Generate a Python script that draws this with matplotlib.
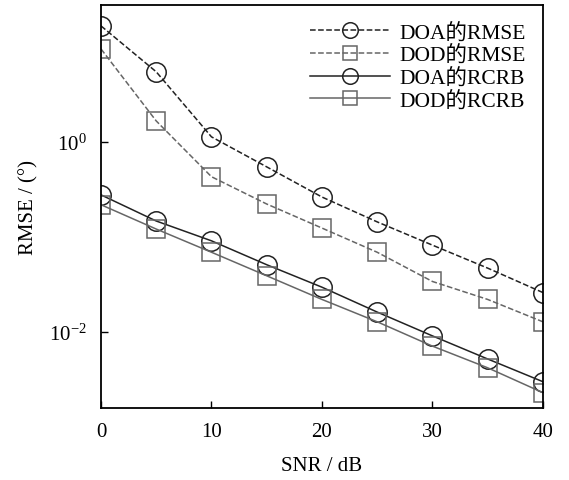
import matplotlib
matplotlib.use("Agg")
import matplotlib.pyplot as plt
from matplotlib.ticker import FixedLocator, NullLocator

plt.rcParams['font.family'] = ['Liberation Serif', 'Noto Sans CJK SC']
plt.rcParams['mathtext.fontset'] = 'custom'
plt.rcParams['mathtext.rm'] = 'Liberation Serif'

# Data
snr = [0, 5, 10, 15, 20, 25, 30, 35, 40]
doa_rmse = [16.6, 5.46, 1.13, 0.546, 0.263, 0.144, 0.082, 0.047, 0.026]
dod_rmse = [9.5, 1.66, 0.43, 0.222, 0.124, 0.069, 0.034, 0.022, 0.0128]
doa_rcrb = [0.277, 0.147, 0.091, 0.051, 0.0296, 0.0162, 0.0091, 0.0052, 0.0030]
dod_rcrb = [0.218, 0.121, 0.069, 0.039, 0.022, 0.0128, 0.0071, 0.0042, 0.0023]
labels = ['DOA的RMSE', 'DOD的RMSE', 'DOA的RCRB', 'DOD的RCRB']

dark = '#222222'
grey = '#666666'

fig = plt.figure(figsize=(5.69, 4.81), dpi=100)
ax = fig.add_axes([0.1775, 0.1497, 0.7765, 0.8378])

ax.semilogy(snr, doa_rmse, '--o', color=dark, lw=1.1, ms=14, mfc='none', mew=1.1, label=labels[0])
ax.semilogy(snr, dod_rmse, '--s', color=grey, lw=1.1, ms=12.5, mfc='none', mew=1.1, label=labels[1])
ax.semilogy(snr, doa_rcrb, '-o', color=dark, lw=1.1, ms=14, mfc='none', mew=1.1, label=labels[2])
ax.semilogy(snr, dod_rcrb, '-s', color=grey, lw=1.1, ms=12.5, mfc='none', mew=1.1, label=labels[3])

ax.set_xlim(0, 40)
ax.set_ylim(10 ** -2.8, 10 ** 1.44)
ax.set_xticks([0, 10, 20, 30, 40])
ax.yaxis.set_major_locator(FixedLocator([1, 0.01]))
ax.yaxis.set_minor_locator(NullLocator())
ax.tick_params(direction='in', length=5, width=1, labelsize=15, pad=10)
for s in ax.spines.values():
    s.set_linewidth(1.3)

ax.set_xlabel('SNR / dB', fontsize=15, labelpad=11)
ax.set_ylabel('RMSE / (°)', fontsize=15, labelpad=8)

ax.legend(loc='upper right', frameon=False, fontsize=15.5, handlelength=3.7,
          labelspacing=0.12, handletextpad=0.45, borderaxespad=0.4,
          markerscale=0.8, bbox_to_anchor=(1.0, 1.0))

fig.savefig('out.png', dpi=100)
